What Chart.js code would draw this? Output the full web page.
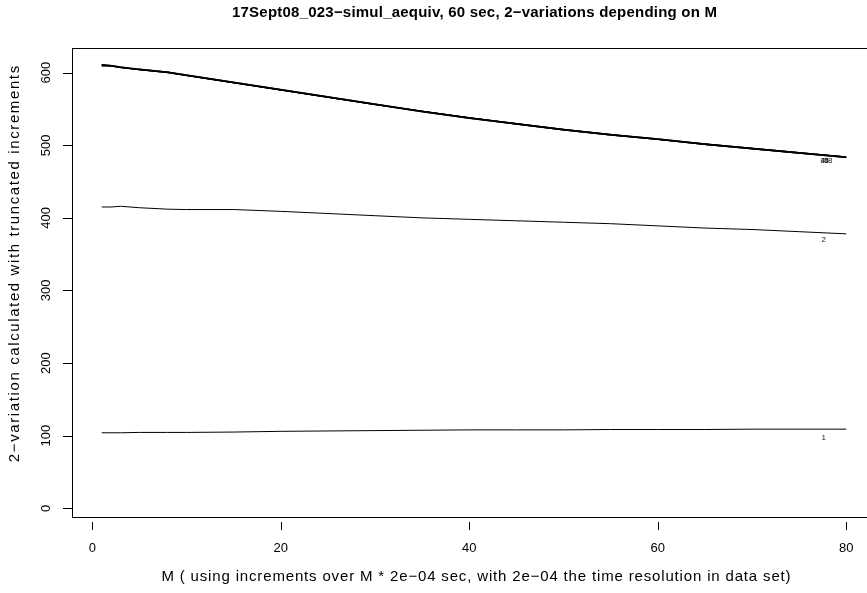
<!DOCTYPE html>
<html>
<head>
<meta charset="utf-8">
<script src="https://cdn.jsdelivr.net/npm/chart.js@4.4.1/dist/chart.umd.min.js"></script>
<style>
  html, body { margin: 0; padding: 0; background: #fff; overflow: hidden; }
  #wrap { width: 880px; height: 593px; }
</style>
</head>
<body>
<div id="wrap"><canvas id="grafica" width="880" height="593"></canvas></div>
<script>
// datos
const titulo = '17Sept08_023\u2212simul_aequiv, 60 sec, 2\u2212variations depending on M';
const tituloX = 'M ( using increments over M * 2e\u221204 sec, with 2e\u221204 the time resolution in data set)';
const tituloY = '2\u2212variation calculated with truncated increments';

const valoresM = [1, 2, 3, 5, 8, 10, 15, 20, 25, 30, 35, 40, 45, 50, 55, 60, 65, 70, 75, 80];

const serie1 = [104, 104, 104, 104.5, 104.5, 104.5, 105, 106, 106.5, 107, 107.5, 108, 108, 108, 108.5, 108.5, 108.5, 109, 109, 109];
const serie2 = [415, 415, 416, 414, 412, 411.5, 411.5, 409, 406, 403, 400, 398, 396, 394, 392, 389, 386, 384, 381, 378];
const serie3 = [611, 610, 608, 605, 601, 597, 587, 577, 567, 557, 547, 538, 530, 522, 515, 509, 502, 496, 490, 484];
const serie4 = [610, 609, 607, 604, 600, 596, 586, 576, 566, 556, 546, 537, 529, 521, 514, 508, 501, 495, 489, 484];
const serie5 = [611, 610, 608, 604, 600, 596, 586, 576, 566, 556, 547, 538, 530, 522, 515, 508, 502, 496, 490, 484];
const serie6 = [609, 609, 607, 604, 600, 596, 586, 576, 566, 556, 547, 538, 529, 521, 514, 508, 501, 495, 489, 483];
const serie7 = [610, 610, 607, 604, 601, 597, 587, 577, 567, 557, 547, 538, 530, 522, 515, 509, 502, 496, 490, 484];
const serie8 = [611, 609, 607, 605, 601, 596, 586, 576, 566, 556, 546, 537, 529, 521, 514, 508, 501, 495, 489, 483];

const series = [serie1, serie2, serie3, serie4, serie5, serie6, serie7, serie8];
const etiquetas = ['1', '2', '3', '4', '5', '6', '7', '8'];
const etiquetaX = [77.6, 77.6, 77.5, 77.5, 77.9, 77.9, 77.9, 78.3];
const etiquetaY = [97, 370, 479, 479, 479, 479, 479, 479];

const ticksX = [0, 20, 40, 60, 80];
const ticksY = [0, 100, 200, 300, 400, 500, 600];

const fuente = '"Liberation Sans", Arial, sans-serif';

// escribe un texto centrado ocupando el ancho pedido (ajusta el espaciado)
function textoAjustado(ctx, t, x, y, ancho) {
    const w0 = ctx.measureText(t).width;
    if ('letterSpacing' in ctx) {
        const ls = (ancho - w0) / t.length;
        ctx.letterSpacing = ls.toFixed(2) + 'px';
        ctx.fillText(t, x + ls / 2, y);
        ctx.letterSpacing = '0px';
    } else {
        ctx.save();
        ctx.translate(x, y);
        ctx.scale(ancho / w0, 1);
        ctx.fillText(t, 0, 0);
        ctx.restore();
    }
}

// plugin para dibujar caja, ejes al estilo R y textos
const estiloR = {
    id: 'estiloR',
    afterDatasetsDraw(chart) {
        const ctx = chart.ctx;
        const area = chart.chartArea;
        const sx = chart.scales.x;
        const sy = chart.scales.y;

        ctx.save();
        // etiquetas de las curvas
        ctx.fillStyle = '#222';
        ctx.font = '8px ' + fuente;
        ctx.textAlign = 'center';
        ctx.textBaseline = 'middle';
        etiquetas.forEach((t, i) => {
            ctx.fillText(t, sx.getPixelForValue(etiquetaX[i]), sy.getPixelForValue(etiquetaY[i]));
        });

        // caja
        ctx.strokeStyle = '#000';
        ctx.lineWidth = 1;
        ctx.strokeRect(Math.round(area.left) + 0.5, Math.round(area.top) + 0.5,
                       Math.round(area.right - area.left), Math.round(area.bottom - area.top));

        // marcas de los ejes
        ctx.beginPath();
        ticksX.forEach(v => {
            const px = Math.round(sx.getPixelForValue(v)) + 0.5;
            ctx.moveTo(px, area.bottom + 5);
            ctx.lineTo(px, area.bottom + 13);
        });
        ticksY.forEach(v => {
            const py = Math.round(sy.getPixelForValue(v)) + 0.5;
            ctx.moveTo(area.left - 9, py);
            ctx.lineTo(area.left, py);
        });
        ctx.stroke();

        ctx.fillStyle = '#000';
        ctx.font = '13px ' + fuente;
        ctx.textAlign = 'center';
        ctx.textBaseline = 'middle';
        ticksX.forEach(v => {
            ctx.fillText(String(v), sx.getPixelForValue(v), area.bottom + 31);
        });
        ticksY.forEach(v => {
            ctx.save();
            ctx.translate(area.left - 26, sy.getPixelForValue(v));
            ctx.rotate(-Math.PI / 2);
            ctx.fillText(String(v), 0, 0);
            ctx.restore();
        });

        // títulos
        ctx.font = '15px ' + fuente;
        textoAjustado(ctx, tituloX, 476, area.bottom + 60, 630);
        ctx.save();
        ctx.translate(15, 264);
        ctx.rotate(-Math.PI / 2);
        textoAjustado(ctx, tituloY, 0, 0, 398);
        ctx.restore();

        ctx.font = 'bold 15px ' + fuente;
        textoAjustado(ctx, titulo, 474.5, 13, 485);
        ctx.restore();
    }
};

const ctx = document.getElementById('grafica').getContext('2d');

const grafica = new Chart(ctx, {
    type: 'line',
    data: {
        datasets: series.map((s, i) => ({
            label: etiquetas[i],
            data: valoresM.map((m, j) => ({ x: m, y: s[j] })),
            borderColor: '#000',
            borderWidth: 1,
            pointRadius: 0,
            tension: 0,
            fill: false
        }))
    },
    options: {
        responsive: false,
        animation: false,
        events: [],
        layout: { padding: { left: 72, top: 48, right: 4, bottom: 76 } },
        plugins: { legend: { display: false }, tooltip: { enabled: false }, title: { display: false } },
        scales: {
            x: { type: 'linear', display: false, min: -2.16, max: 83.16 },
            y: { type: 'linear', display: false, min: -12, max: 634 }
        }
    },
    plugins: [estiloR]
});
</script>
</body>
</html>
